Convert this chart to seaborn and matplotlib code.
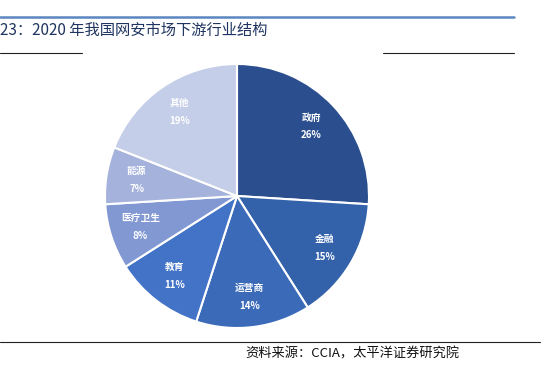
import seaborn as sns
import matplotlib.pyplot as plt
from matplotlib.lines import Line2D

sns.set_theme(style="white")
plt.rcParams['font.family'] = ['Noto Sans CJK SC', 'DejaVu Sans']

categories = ['政府', '金融', '运营商', '教育', '医疗卫生', '能源', '其他']
shares = [26, 15, 14, 11, 8, 7, 19]
colors = ['#2B4F8E', '#3462AA', '#3A6AB8', '#4373C6', '#8298D2', '#A5B2DC', '#C5CEE8']

W, H = 548, 373
fig = plt.figure(figsize=(W / 100, H / 100), dpi=100)

# pie axes: centre ~ (237,196), radius ~132 px
cx, cy, r = 237, 196, 132
ax = fig.add_axes([(cx - r) / W, 1 - (cy + r) / H, 2 * r / W, 2 * r / H])
labels = [f'{c}\n{v}%' for c, v in zip(categories, shares)]
wedges, texts = ax.pie(shares, labels=labels, colors=colors, startangle=90,
                       counterclock=False, labeldistance=0.77,
                       wedgeprops=dict(edgecolor='white', linewidth=1.5),
                       textprops=dict(color='white', fontsize=7, weight='bold',
                                      linespacing=2.0))
for t in texts:
    t.set_ha('center')
    t.set_va('center')
ax.set_aspect('equal')
ax.set_xlim(-1, 1)
ax.set_ylim(-1, 1)


def hline(x0, x1, y, color, lw):
    fig.add_artist(Line2D([x0 / W, x1 / W], [1 - y / H, 1 - y / H],
                          color=color, linewidth=lw, transform=fig.transFigure))


hline(0, 514, 17, '#5B86C0', 1.8)
hline(0, 82, 53, '#222222', 0.8)
hline(383, 514, 53, '#222222', 0.8)
hline(0, 540, 342, '#222222', 0.8)

fig.text(0, 1 - 30 / H, '23：2020 年我国网安市场下游行业结构', ha='left', va='center',
         fontsize=11, color='#1F3460')
fig.text(245 / W, 1 - 354 / H, '资料来源：CCIA，太平洋证券研究院', ha='left', va='center',
         fontsize=9.5, color='#111111', style='italic')

fig.savefig('out.png', dpi=100)
